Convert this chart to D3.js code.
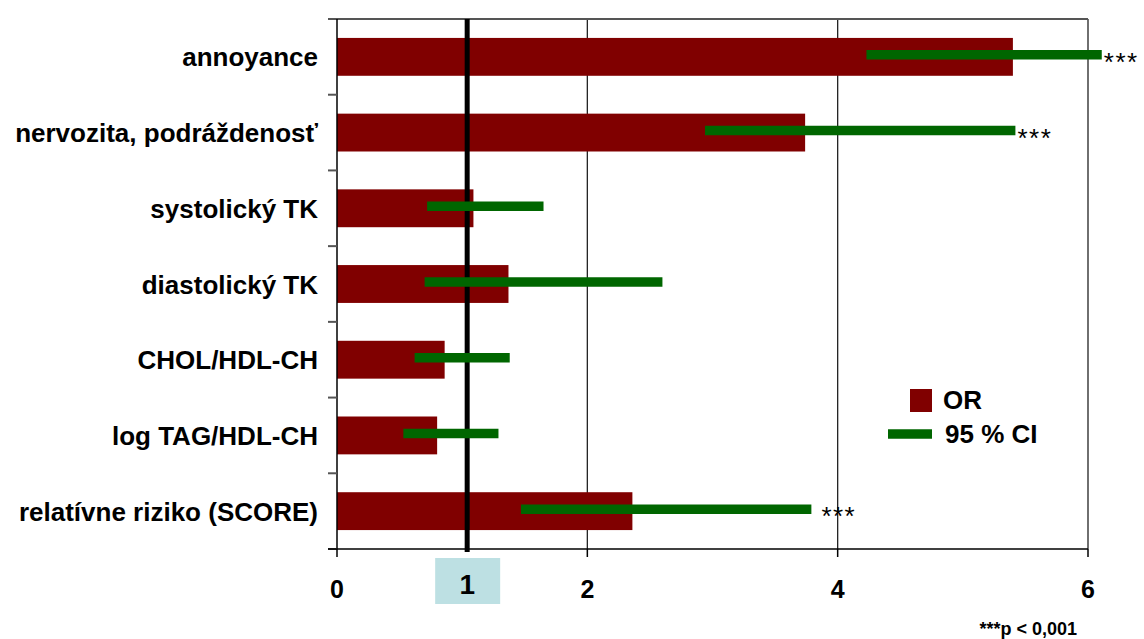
<!DOCTYPE html>
<html><head><meta charset="utf-8">
<script src="https://cdn.jsdelivr.net/npm/d3@7"></script>
<style>body{margin:0;background:#fff}svg{display:block;font-family:"Liberation Sans",Arial,sans-serif}</style>
</head><body>
<script>
const categories = ["annoyance","nervozita, podráždenosť","systolický TK","diastolický TK","CHOL/HDL-CH","log TAG/HDL-CH","relatívne riziko (SCORE)"];
const orValues = [5.40, 3.74, 1.09, 1.37, 0.86, 0.80, 2.36];
const ciLow = [4.23, 2.94, 0.72, 0.70, 0.62, 0.53, 1.47];
const ciHigh = [6.11, 5.42, 1.65, 2.60, 1.38, 1.29, 3.79];
const signif = ["***","***","","","","","***"];
const xTicks = [0, 2, 4, 6];
const refLabel = "1";
const refLinePos = 1.04; // where the reference line is drawn in the picture

(function(){
const W = 1144, H = 639;
const svg = d3.select("body").append("svg").attr("width", W).attr("height", H);
const pL = 337, pR = 1088, pT = 19, pB = 549;
const x = d3.scaleLinear().domain([0, 6]).range([pL, pR]);
const y = d3.scaleBand().domain(categories).range([pT, pB]);
const cy = d => y(d) + y.bandwidth() / 2;

// gridlines
svg.append("g").selectAll("line").data(xTicks.filter(d => d > 0)).join("line")
  .attr("x1", d => x(d)).attr("x2", d => x(d)).attr("y1", pT).attr("y2", pB)
  .attr("stroke", "#222").attr("stroke-width", 1.3);
// top border
svg.append("line").attr("x1", pL - 9).attr("x2", pR).attr("y1", pT).attr("y2", pT)
  .attr("stroke", "#555").attr("stroke-width", 2);

// bars
const bh = y.bandwidth() * 0.5;
svg.append("g").selectAll("rect").data(categories).join("rect")
  .attr("x", x(0)).attr("y", d => cy(d) - bh / 2)
  .attr("width", (d, i) => x(orValues[i]) - x(0)).attr("height", bh)
  .attr("fill", "#800000");

// reference line at 1
svg.append("line").attr("x1", x(refLinePos)).attr("x2", x(refLinePos)).attr("y1", pT).attr("y2", pB + 3)
  .attr("stroke", "#000").attr("stroke-width", 5);

// CI lines
svg.append("g").selectAll("line").data(categories).join("line")
  .attr("x1", (d, i) => x(ciLow[i])).attr("x2", (d, i) => x(ciHigh[i]))
  .attr("y1", d => cy(d) - 2).attr("y2", d => cy(d) - 2)
  .attr("stroke", "#006600").attr("stroke-width", 9.5);

// significance
svg.append("g").selectAll("text").data(categories).join("text")
  .attr("x", (d, i) => x(ciHigh[i]) + (i === 6 ? 10 : 2))
  .attr("y", d => cy(d) + 14)
  .attr("font-size", 26).attr("letter-spacing", 1.5).attr("fill", "#000")
  .text((d, i) => signif[i]);

// y axis
const yAxis = svg.append("g").attr("transform", `translate(${pL},0)`);
yAxis.append("line").attr("x1", 0).attr("x2", 0).attr("y1", pT).attr("y2", pB).attr("stroke", "#000").attr("stroke-width", 1.5);
const yb = categories.map(c => y(c)).slice(1).concat([pB]);
yAxis.selectAll("line.t").data(yb).join("line").attr("class", "t")
  .attr("x1", -9).attr("x2", 0).attr("y1", d => d).attr("y2", d => d)
  .attr("stroke", "#555").attr("stroke-width", 2);
svg.append("g").selectAll("text").data(categories).join("text")
  .attr("x", 318).attr("y", d => cy(d) + 9.5)
  .attr("text-anchor", "end").attr("font-size", 26).attr("font-weight", "bold").text(d => d);

// x axis
svg.append("line").attr("x1", pL - 9).attr("x2", pR).attr("y1", pB).attr("y2", pB)
  .attr("stroke", "#000").attr("stroke-width", 1.5);
svg.append("g").selectAll("line").data(xTicks).join("line")
  .attr("x1", d => x(d)).attr("x2", d => x(d)).attr("y1", pB).attr("y2", pB + 8)
  .attr("stroke", "#000").attr("stroke-width", 1.5);
svg.append("g").selectAll("text").data(xTicks).join("text")
  .attr("x", d => x(d)).attr("y", 598).attr("text-anchor", "middle")
  .attr("font-size", 25).attr("font-weight", "bold").text(d => d);
// highlight box for 1
svg.append("rect").attr("x", x(refLinePos) - 32).attr("y", 558).attr("width", 65).attr("height", 46).attr("fill", "#bde0e3");
svg.append("text").attr("x", x(refLinePos)).attr("y", 594).attr("text-anchor", "middle")
  .attr("font-size", 28).attr("font-weight", "bold").text(refLabel);

// legend
svg.append("rect").attr("x", 910).attr("y", 389).attr("width", 22).attr("height", 23).attr("fill", "#800000");
svg.append("text").attr("x", 943).attr("y", 409).attr("font-size", 26).attr("font-weight", "bold").text("OR");
svg.append("line").attr("x1", 888).attr("x2", 932).attr("y1", 434).attr("y2", 434).attr("stroke", "#006600").attr("stroke-width", 9.5);
svg.append("text").attr("x", 945).attr("y", 443).attr("font-size", 26).attr("font-weight", "bold").text("95 % CI");

// footnote
svg.append("text").attr("x", 1077).attr("y", 635).attr("text-anchor", "end").attr("font-size", 18).attr("font-weight", "bold").text("***p < 0,001");
})();
</script>
</body></html>
